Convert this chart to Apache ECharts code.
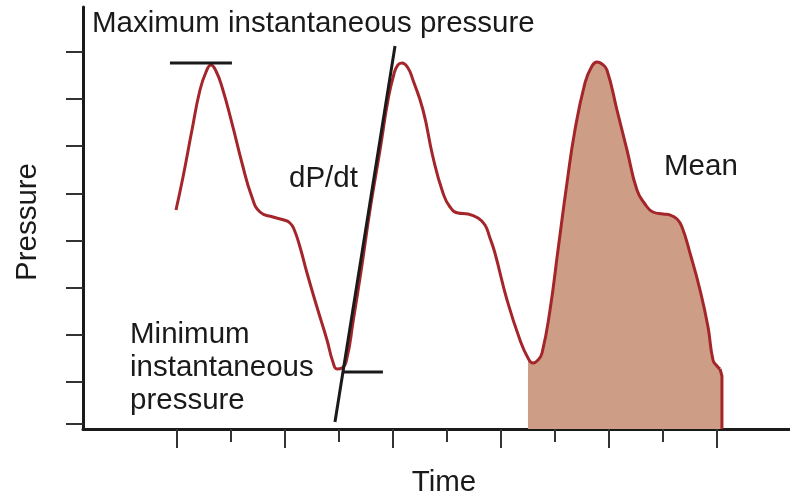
<!DOCTYPE html>
<html>
<head>
<meta charset="utf-8">
<script src="https://cdn.jsdelivr.net/npm/echarts@6/dist/echarts.min.js"></script>
<style>
html,body{margin:0;padding:0;background:#fff;}
#chart{width:790px;height:495px;}
</style>
</head>
<body>
<div id="chart"></div>
<script>
// Pressure waveform (time in tick units, pressure in tick units)
const curveTime = [0.991,1.056,1.139,1.213,1.269,1.315,1.361,1.417,1.509,1.602,1.694,1.769,1.889,1.991,2.046,2.083,2.139,2.204,2.296,2.389,2.444,2.481,2.528,2.574,2.630,2.713,2.787,2.880,2.954,3.009,3.046,3.083,3.139,3.185,3.278,3.370,3.463,3.528,3.602,3.694,3.787,3.852,3.898,3.944,4.056,4.176,4.250,4.296,4.343,4.380,4.454,4.528,4.611,4.685,4.778,4.833,4.889,4.935,4.981,5.074,5.167,5.259,5.333,5.407,5.500,5.565,5.630,5.676,5.750,5.843,5.917,5.963,6.000,6.028];
const curvePressure = [4.646,5.346,6.343,7.191,7.573,7.722,7.594,7.255,6.491,5.643,4.921,4.603,4.497,4.434,4.370,4.243,3.861,3.309,2.588,1.888,1.421,1.273,1.294,1.506,2.270,3.479,4.646,5.918,6.979,7.531,7.722,7.764,7.658,7.403,6.767,5.770,5.006,4.709,4.582,4.561,4.476,4.328,4.052,3.734,2.737,1.888,1.506,1.400,1.464,1.612,2.524,3.797,5.218,6.343,7.340,7.658,7.785,7.743,7.616,6.767,5.918,5.070,4.773,4.603,4.561,4.540,4.455,4.285,3.734,2.949,2.164,1.464,1.336,1.273];
// final drop to baseline at end of the shaded beat
const tailTime = [6.028,6.046,6.046];
const tailPressure = [1.273,1.124,0];
// shaded (mean) region starts at this index of the curve
const fillStartIndex = 46;
// annotation lines
const maxLineTime = [0.935,1.509];
const maxLinePressure = [7.764,7.764];
const slopeLineTime = [2.463,3.019];
const slopeLinePressure = [0.148,8.125];
const minLineTime = [2.537,2.907];
const minLinePressure = [1.209,1.209];
// ticks
const xMajorTicks = [1,2,3,4,5,6];
const xMinorTicks = [1.5,2.5,3.5,4.5,5.5];
const yTicks = [0.12,1,2,3,4,5,6,7,8];

const zip = (a,b) => a.map((v,i)=>[v,b[i]]);
const curve = zip(curveTime, curvePressure);
const fillData = curve.slice(fillStartIndex).concat([[tailTime[1], tailPressure[1]]]);

const FONT = 'Liberation Sans, Arial, Helvetica, sans-serif';
const FS = '29.5px ';
const RED = '#A4262A';
const FILL = '#CD9D85';
const INK = '#1a1a1a';
const SMOOTH = 0.5;

const chart = echarts.init(document.getElementById('chart'), null, {renderer:'canvas'});
const txt = (text, x, y, extra) => Object.assign({
  type:'text', x:x, y:y,
  style:{text:text, font:FS + FONT, fill:INK, textVerticalAlign:'middle', textAlign:'left'}
}, extra||{});

chart.setOption({
  animation:false,
  backgroundColor:'#ffffff',
  grid:{left:83, right:0, top:7, bottom:66, containLabel:false},
  xAxis:[{
    type:'value', min:0.13, max:6.676,
    axisLine:{show:true, onZero:false, lineStyle:{color:INK, width:3}},
    axisTick:{show:true, customValues:xMajorTicks, length:19, lineStyle:{color:'#333', width:2}},
    axisLabel:{show:false}, splitLine:{show:false}
  },{
    type:'value', min:0.13, max:6.676, position:'bottom',
    axisLine:{show:false, onZero:false},
    axisTick:{show:true, customValues:xMinorTicks, length:13, lineStyle:{color:'#333', width:2}},
    axisLabel:{show:false}, splitLine:{show:false}
  }],
  yAxis:{
    type:'value', min:0, max:8.952,
    axisLine:{show:true, onZero:false, lineStyle:{color:INK, width:3}},
    axisTick:{show:true, customValues:yTicks, length:17, lineStyle:{color:'#333', width:2}},
    axisLabel:{show:false}, splitLine:{show:false}
  },
  series:[
    {type:'line', data:fillData, smooth:SMOOTH, showSymbol:false, z:1,
     lineStyle:{width:0, opacity:0}, areaStyle:{color:FILL, opacity:1}},
    {type:'line', data:curve, smooth:SMOOTH, showSymbol:false, z:3,
     lineStyle:{color:RED, width:3}},
    {type:'line', data:zip(tailTime, tailPressure), showSymbol:false, z:3,
     lineStyle:{color:RED, width:3}},
    {type:'line', data:zip(maxLineTime, maxLinePressure), showSymbol:false, z:4,
     lineStyle:{color:INK, width:3}},
    {type:'line', data:zip(slopeLineTime, slopeLinePressure), showSymbol:false, z:4,
     lineStyle:{color:INK, width:3}},
    {type:'line', data:zip(minLineTime, minLinePressure), showSymbol:false, z:4,
     lineStyle:{color:INK, width:3}}
  ],
  graphic:[
    txt('Maximum instantaneous pressure', 92, 24),
    txt('dP/dt', 289, 179),
    txt('Minimum', 130, 335),
    txt('instantaneous', 130, 368),
    txt('pressure', 130, 401),
    txt('Mean', 664, 167),
    {type:'text', x:444, y:483, style:{text:'Time', font:FS + FONT, fill:INK, textAlign:'center', textVerticalAlign:'middle'}},
    {type:'text', x:28, y:222, rotation:Math.PI/2, style:{text:'Pressure', font:FS + FONT, fill:INK, textAlign:'center', textVerticalAlign:'middle'}}
  ]
});
</script>
</body>
</html>
